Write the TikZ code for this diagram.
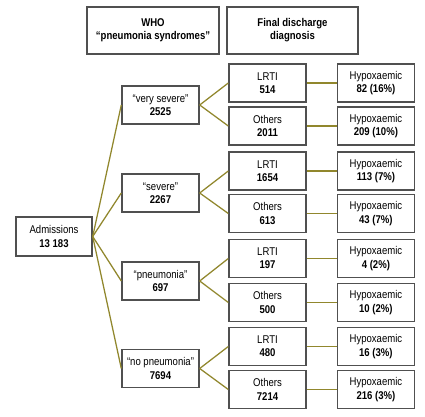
\documentclass[tikz,border=0pt]{standalone}
\usepackage{fontspec}
\setmainfont{Liberation Sans}[FakeStretch=0.85]
\definecolor{boxgray}{RGB}{80,80,80}
\definecolor{linkolive}{RGB}{145,135,45}
\usetikzlibrary{positioning}

\begin{document}
\begin{tikzpicture}[
  box/.style={draw=boxgray, line width=1pt, fill=white, inner sep=0pt, align=center,
    minimum width=1.925cm, minimum height=0.95cm, font=\fontsize{8}{9.4}\selectfont},
  headbox/.style={box, minimum height=1.175cm, font=\fontsize{8}{9.2}\selectfont\bfseries},
  link/.style={draw=linkolive, line width=0.9pt}]
  \useasboundingbox (0,0) rectangle (10.625,10.425);

  % column headings
  \node[headbox, minimum width=3.3cm] (who) at (3.825,9.6625) {WHO\\“pneumonia syndromes”};
  \node[headbox, minimum width=3.275cm] (final) at (7.3125,9.6625) {Final discharge\\diagnosis};

  % admissions
  \node[box, minimum width=1.9cm, minimum height=0.975cm] (adm) at (1.35,4.5125) {Admissions\\\textbf{13 183}};

  % WHO syndromes
  \node[box] (vsev) at (4.0125,7.8) {“very severe”\\\textbf{2525}};
  \node[box] (sev) at (4.0125,5.6) {“severe”\\\textbf{2267}};
  \node[box] (pneu) at (4.0125,3.4) {“pneumonia”\\\textbf{697}};
  \node[box] (nopneu) at (4.0125,1.2125) {“no pneumonia”\\\textbf{7694}};

  % discharge diagnosis
  \node[box] (vsevL) at (6.6875,8.35) {LRTI\\\textbf{514}};
  \node[box] (vsevO) at (6.6875,7.275) {Others\\\textbf{2011}};
  \node[box] (sevL) at (6.6875,6.15) {LRTI\\\textbf{1654}};
  \node[box] (sevO) at (6.6875,5.0875) {Others\\\textbf{613}};
  \node[box] (pneuL) at (6.6875,3.9625) {LRTI\\\textbf{197}};
  \node[box] (pneuO) at (6.6875,2.8625) {Others\\\textbf{500}};
  \node[box] (nopneuL) at (6.6875,1.7625) {LRTI\\\textbf{480}};
  \node[box] (nopneuO) at (6.6875,0.6875) {Others\\\textbf{7214}};

  % hypoxaemic
  \node[box, right=0.75cm of vsevL] (vsevLH) {Hypoxaemic\\\textbf{82 (16\%)}};
  \node[box, right=0.75cm of vsevO] (vsevOH) {Hypoxaemic\\\textbf{209 (10\%)}};
  \node[box, right=0.75cm of sevL] (sevLH) {Hypoxaemic\\\textbf{113 (7\%)}};
  \node[box, right=0.75cm of sevO] (sevOH) {Hypoxaemic\\\textbf{43 (7\%)}};
  \node[box, right=0.75cm of pneuL] (pneuLH) {Hypoxaemic\\\textbf{4 (2\%)}};
  \node[box, right=0.75cm of pneuO] (pneuOH) {Hypoxaemic\\\textbf{10 (2\%)}};
  \node[box, right=0.75cm of nopneuL] (nopneuLH) {Hypoxaemic\\\textbf{16 (3\%)}};
  \node[box, right=0.75cm of nopneuO] (nopneuOH) {Hypoxaemic\\\textbf{216 (3\%)}};

  % connectors
  \foreach \s in {vsev,sev,pneu,nopneu} {
    \draw[link] (adm.east) -- (\s.west);
    \draw[link] (\s.east) -- (\s L.west);
    \draw[link] (\s.east) -- (\s O.west);
    \draw[link] (\s L.east) -- (\s LH.west);
    \draw[link] (\s O.east) -- (\s OH.west);
  }
\end{tikzpicture}
\end{document}
